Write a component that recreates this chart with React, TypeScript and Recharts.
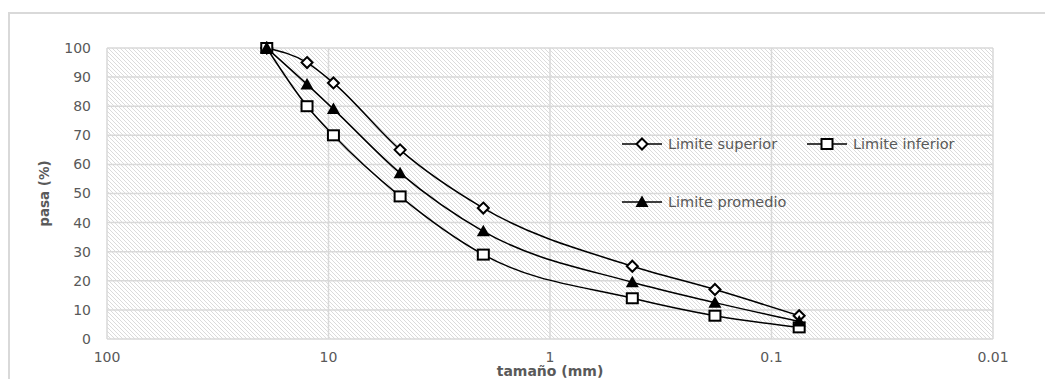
import React from 'react';
import { LineChart, Line, XAxis, YAxis, CartesianGrid, Label } from 'recharts';

const sizes = [19, 12.5, 9.5, 4.75, 2.0, 0.425, 0.18, 0.075];
const superior = [100, 95, 88, 65, 45, 25, 17, 8];
const inferior = [100, 80, 70, 49, 29, 14, 8, 4];
const promedio = [100, 87.5, 79, 57, 37, 19.5, 12.5, 6];
const xTicks = [100, 10, 1, 0.1, 0.01];
const yTicks = [0, 10, 20, 30, 40, 50, 60, 70, 80, 90, 100];
const seriesNames = ['Limite superior', 'Limite inferior', 'Limite promedio'];
const xTitle = 'tamaño (mm)';
const yTitle = 'pasa (%)';

const data = sizes.map((s, i) => ({ size: s, sup: superior[i], inf: inferior[i], prom: promedio[i] }));

const FONT = '"DejaVu Sans", sans-serif';
const TXT = '#595959';

const Diamond = ({ cx, cy }: any) => (
  <polygon
    points={`${cx},${cy - 5.5} ${cx + 5.5},${cy} ${cx},${cy + 5.5} ${cx - 5.5},${cy}`}
    fill="#fff"
    stroke="#000"
    strokeWidth={2}
  />
);
const Square = ({ cx, cy }: any) => (
  <rect x={cx - 5.5} y={cy - 5} width={11} height={10} fill="#fff" stroke="#000" strokeWidth={2} />
);
const Triangle = ({ cx, cy }: any) => (
  <polygon points={`${cx},${cy - 6.5} ${cx + 6.5},${cy + 5} ${cx - 6.5},${cy + 5}`} fill="#000" />
);

const dotFn = (Shape: any) => (p: any) => (
  <g key={`dot-${p.dataKey}-${p.index}`}>
    {p.cx != null && p.cy != null ? <Shape cx={p.cx} cy={p.cy} /> : null}
  </g>
);

const markers = [Diamond, Square, Triangle];

const LegendIcon = ({ Shape }: any) => (
  <svg width={40} height={16} style={{ display: 'block' }}>
    <line x1={0} y1={8} x2={40} y2={8} stroke="#000" strokeWidth={1.5} />
    <Shape cx={20} cy={8} />
  </svg>
);

const LegendBox = () => (
  <div
    style={{
      position: 'absolute',
      left: 614,
      top: 128,
      display: 'grid',
      gridTemplateColumns: '185px 180px',
      gridAutoRows: '58px',
      fontFamily: FONT,
      fontSize: 14.5,
      color: TXT,
    }}
  >
    {seriesNames.map((n, i) => (
      <div key={n} style={{ display: 'flex', alignItems: 'center', height: 16 }}>
        <LegendIcon Shape={markers[i]} />
        <span style={{ marginLeft: 6, whiteSpace: 'nowrap', lineHeight: '16px' }}>{n}</span>
      </div>
    ))}
  </div>
);

export default function App() {
  return (
    <div style={{ position: 'relative', width: 1045, height: 371 }}>
      <svg width={0} height={0} style={{ position: 'absolute' }}>
        <defs>
          <pattern id="hatch" width={4} height={4} patternUnits="userSpaceOnUse">
            <rect width={4} height={4} fill="#fff" />
            <path d="M0,0 L4,4 M-1,3 L1,5 M3,-1 L5,1" stroke="#d4d4d4" strokeWidth={0.85} />
          </pattern>
        </defs>
      </svg>
      <div
        style={{
          position: 'absolute',
          left: 0,
          top: 4,
          width: 1045,
          height: 367,
          borderLeft: '2px solid #d9d9d9',
          borderTop: '2px solid #d9d9d9',
          boxSizing: 'border-box',
        }}
      />
      <div style={{ position: 'absolute', left: 0, top: 0 }}>
        <LineChart
          width={1045}
          height={371}
          data={data}
          margin={{ top: 40, right: 60, bottom: 10, left: 40 }}
        >
          <CartesianGrid stroke="#d9d9d9" strokeWidth={1.5} fill="url(#hatch)" fillOpacity={1} />
          <XAxis
            dataKey="size"
            type="number"
            scale="log"
            domain={[0.01, 100]}
            allowDataOverflow
            reversed
            ticks={xTicks}
            tickFormatter={(v: number) => String(v)}
            axisLine={false}
            tickLine={false}
            tickSize={0}
            tickMargin={13}
            height={30}
            tick={{ fill: TXT, fontSize: 14, fontFamily: FONT }}
            interval={0}
          >
            <Label
              value={xTitle}
              position="insideBottom"
              offset={-7}
              style={{ fontWeight: 'bold', fontSize: 14, fontFamily: FONT, fill: TXT }}
            />
          </XAxis>
          <YAxis
            type="number"
            domain={[0, 100]}
            ticks={yTicks}
            axisLine={false}
            tickLine={false}
            tickSize={0}
            tickMargin={16}
            width={59}
            interval={0}
            tick={{ fill: TXT, fontSize: 14, fontFamily: FONT }}
          >
            <Label
              content={(props: any) => {
                const vb = props.viewBox || {};
                const cy = (vb.y ?? 40) + (vb.height ?? 291) / 2;
                const cx = 36;
                return (
                  <text
                    x={cx}
                    y={cy}
                    transform={`rotate(-90 ${cx} ${cy})`}
                    textAnchor="middle"
                    dominantBaseline="central"
                    style={{ fontWeight: 'bold', fontSize: 13.5, fontFamily: FONT, fill: TXT }}
                  >
                    {yTitle}
                  </text>
                );
              }}
            />
          </YAxis>
          <Line
            name={seriesNames[0]}
            dataKey="sup"
            type="monotone"
            stroke="#000"
            strokeWidth={1.5}
            dot={dotFn(Diamond)}
            activeDot={false}
            isAnimationActive={false}
          />
          <Line
            name={seriesNames[1]}
            dataKey="inf"
            type="monotone"
            stroke="#000"
            strokeWidth={1.5}
            dot={dotFn(Square)}
            activeDot={false}
            isAnimationActive={false}
          />
          <Line
            name={seriesNames[2]}
            dataKey="prom"
            type="monotone"
            stroke="#000"
            strokeWidth={1.5}
            dot={dotFn(Triangle)}
            activeDot={false}
            isAnimationActive={false}
          />
        </LineChart>
      </div>
      <LegendBox />
    </div>
  );
}
